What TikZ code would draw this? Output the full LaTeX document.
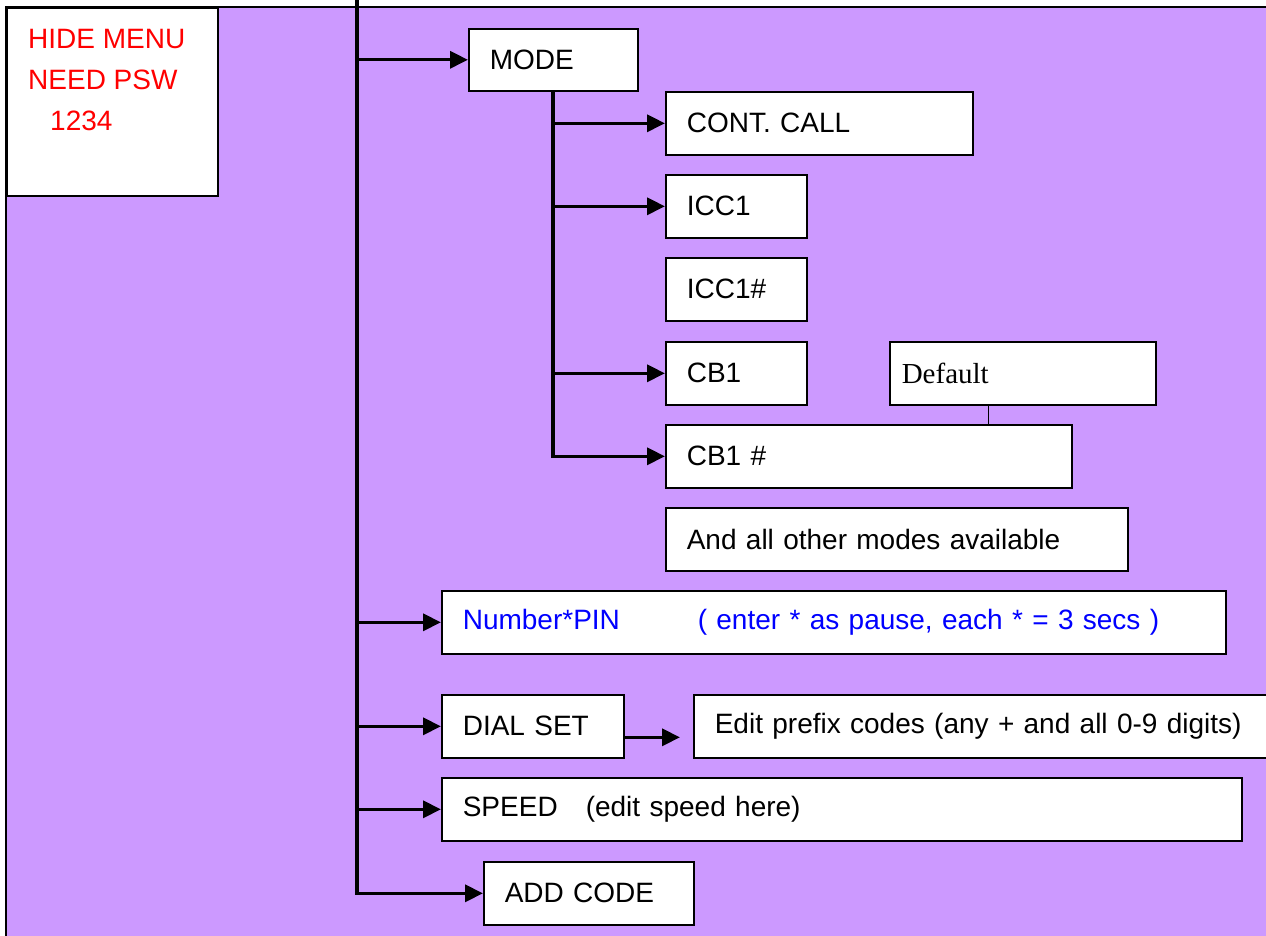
\documentclass[tikz,border=0pt]{standalone}
\usepackage{fontspec}
\setmainfont{Liberation Sans}
\newfontfamily\defaultserif{Liberation Serif}
\usepackage{tikz}
\usetikzlibrary{arrows.meta}

\definecolor{menupurple}{RGB}{204,153,255}

\begin{document}
\begin{tikzpicture}[x=1pt,y=-1pt,
  box/.style={draw, fill=white, line width=1.6pt, anchor=north west, minimum height=63pt,
    inner xsep=21pt, inner ysep=0pt, align=left, font=\fontsize{28}{34}\selectfont},
  link/.style={line width=3.2pt, -{Triangle[length=18pt,width=17pt]}},
  bar/.style={line width=3.2pt}]
\useasboundingbox (0,0) rectangle (1266,935);
\fill[menupurple] (6,7) rectangle (1300,940);
\draw[line width=1.6pt] (1300,7) -- (6,7) -- (6,940);

\node[box, minimum width=211pt, minimum height=188pt] (hide) at (6,7) {};
\node[anchor=north west, inner sep=0pt, align=left, text=red, font=\fontsize{28}{41}\selectfont] (hidetxt) at (28,29)
  {HIDE MENU\\NEED PSW\\\hspace*{22pt}1234};

\node[box, text width=127pt, minimum height=62pt] (mode) at (468,28) {MODE};
\node[box, text width=265pt] (cont) at (665,91) {CONT. CALL};
\node[box, text width=99pt] (icc) at (665,174) {ICC1};
\node[box, text width=99pt] (icch) at (665,257) {ICC1\#};
\node[box, text width=99pt] (cb) at (665,341) {CB1};
\node[box, text width=242pt, inner xsep=12pt, font=\defaultserif\fontsize{29}{34}\selectfont] (dflt) at (889,341) {Default};
\node[box, text width=364pt] (cbh) at (665,424) {CB1 \#};
\node[box, text width=420pt] (other) at (665,507) {And all other modes available};
\node[box, text width=742pt, text=blue] (pin) at (441,590)
  {\makebox[235pt][l]{Number*PIN}( enter * as pause, each * = 3 secs )};
\node[box, text width=140pt] (dial) at (441,694) {DIAL SET};
\node[box, text width=560pt] (edit) at (693,694) {Edit prefix codes (any + and all 0-9 digits)};
\node[box, text width=758pt] (speed) at (441,777) {\makebox[123pt][l]{SPEED}(edit speed here)};
\node[box, text width=168pt] (add) at (483,861) {ADD CODE};

\coordinate (top) at (357,0);
\draw[link] (top) -- (top |- add.west) -- (add.west);
\draw[link] (top |- mode.west) -- (mode.west);
\draw[link] (top |- pin.west) -- (pin.west);
\draw[link] (top |- dial.west) -- (dial.west);
\draw[link] (top |- speed.west) -- (speed.west);

\coordinate (fork) at (553,90);
\draw[link] (fork) -- (fork |- cbh.west) -- (cbh.west);
\draw[link] (fork |- cont.west) -- (cont.west);
\draw[link] (fork |- icc.west) -- (icc.west);
\draw[link] (fork |- cb.west) -- (cb.west);

\draw[link] ([yshift=-11pt]dial.east) -- ([xshift=-13pt,yshift=-11pt]edit.west);
\draw[line width=1pt] ([xshift=-34pt]dflt.south) -- ([xshift=-34pt]dflt.south |- cbh.north);
\end{tikzpicture}
\end{document}
